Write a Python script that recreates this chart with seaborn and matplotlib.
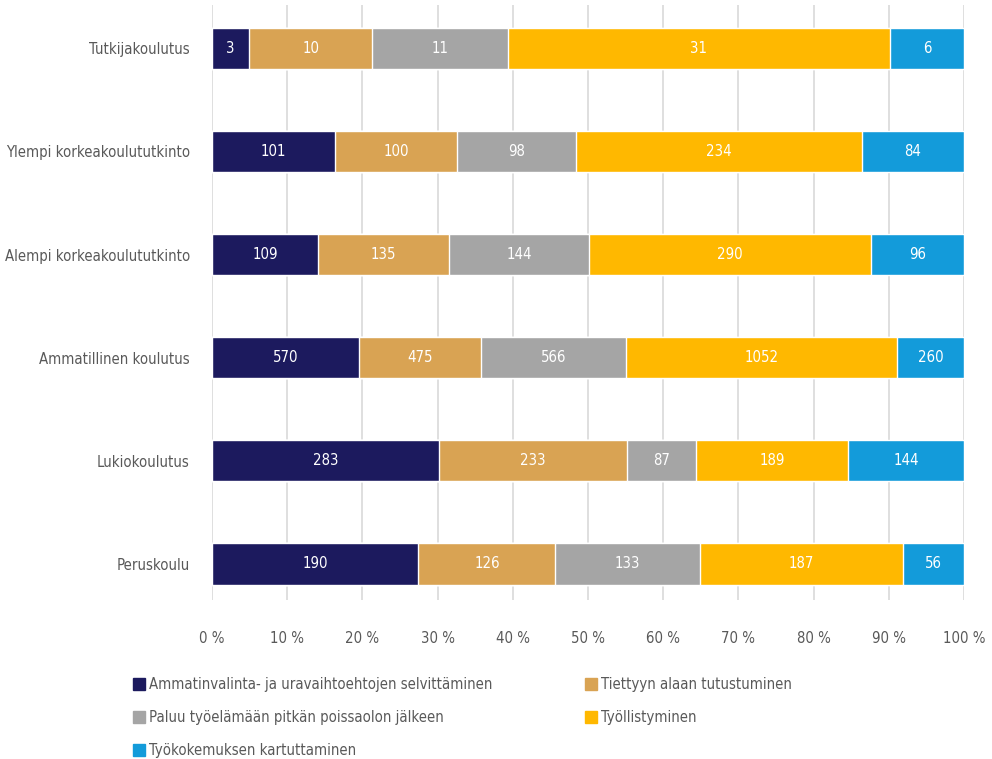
import numpy as np
import pandas as pd
import matplotlib
matplotlib.use("Agg")
import matplotlib.pyplot as plt
from matplotlib.lines import Line2D
import seaborn as sns

categories = ["Tutkijakoulutus", "Ylempi korkeakoulututkinto", "Alempi korkeakoulututkinto",
              "Ammatillinen koulutus", "Lukiokoulutus", "Peruskoulu"]
series_names = ["Ammatinvalinta- ja uravaihtoehtojen selvittäminen",
                "Tiettyyn alaan tutustuminen",
                "Paluu työelämään pitkän poissaolon jälkeen",
                "Työllistyminen",
                "Työkokemuksen kartuttaminen"]
ammatinvalinta = [3, 101, 109, 570, 283, 190]
tiettyyn = [10, 100, 135, 475, 233, 126]
paluu = [11, 98, 144, 566, 87, 133]
tyollistyminen = [31, 234, 290, 1052, 189, 187]
tyokokemus = [6, 84, 96, 260, 144, 56]
colors = ["#1C1A5E", "#D9A353", "#A5A5A5", "#FFB800", "#139BDA"]
tick_labels = ["0 %", "10 %", "20 %", "30 %", "40 %", "50 %", "60 %", "70 %", "80 %", "90 %", "100 %"]

sns.set_theme(style="white")
plt.rcParams["font.family"] = ["DejaVu Sans"]
plt.rcParams["font.stretch"] = "condensed"
txt = "#595959"
fs = 10.7

vals = np.array([ammatinvalinta, tiettyyn, paluu, tyollistyminen, tyokokemus], dtype=float)
pct = vals / vals.sum(axis=0) * 100
cum = np.cumsum(pct, axis=0)

fig = plt.figure(figsize=(9.92, 7.59), dpi=100)
ax = fig.add_axes([212/992, 1-600/759, (964-212)/992, (600-5)/759])

for i in range(len(series_names)-1, -1, -1):
    df = pd.DataFrame({"cat": categories, "val": cum[i]})
    sns.barplot(data=df, y="cat", x="val", orient="h", color=colors[i],
                width=0.4, saturation=1, ax=ax, zorder=3)

for i in range(len(series_names)):
    left = cum[i] - pct[i]
    for j in range(len(categories)):
        ax.text(left[j] + pct[i][j]/2, j, f"{int(vals[i][j])}", ha="center", va="center",
                color="white", fontsize=fs, zorder=4)

ax.set_xlim(0, 100)
ax.set_ylim(5.35, -0.42)
ax.set_xticks(np.arange(0, 101, 10))
ax.set_xticklabels(tick_labels, color=txt, fontsize=fs)
ax.tick_params(axis="y", labelsize=fs, labelcolor=txt, length=0, pad=16)
ax.tick_params(axis="x", length=0, pad=22)
ax.set_xlabel("")
ax.set_ylabel("")
ax.grid(axis="x", color="#D9D9D9", linewidth=1.2, zorder=0)
for s in ax.spines.values():
    s.set_visible(False)

handles = [Line2D([0], [0], marker="s", linestyle="none", markersize=9,
                  markerfacecolor=c, markeredgecolor=c) for c in colors]
order = [0, 2, 4, 1, 3]
leg = fig.legend([handles[k] for k in order], [series_names[k] for k in order],
                 ncol=2, loc="upper left", bbox_to_anchor=(118/992, 1-664/759),
                 frameon=False, fontsize=fs, handletextpad=0.2, columnspacing=6.1,
                 labelspacing=1.2, handlelength=1.0)
for t in leg.get_texts():
    t.set_color(txt)

fig.savefig("out.png", dpi=100)
